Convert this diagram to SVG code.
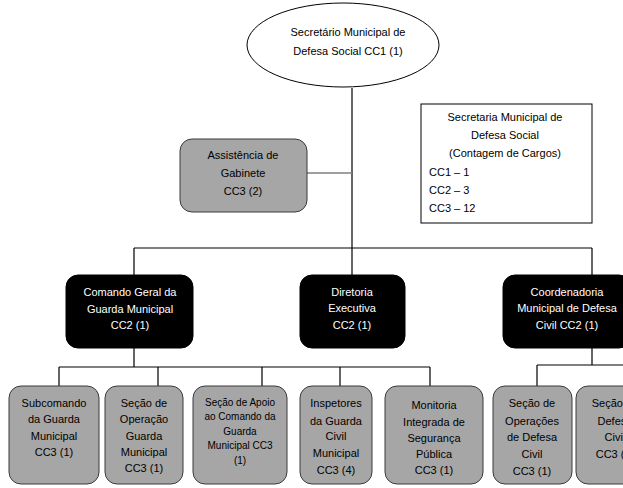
<svg xmlns="http://www.w3.org/2000/svg" width="623" height="488" viewBox="0 0 623 488">
<style>
text{font-family:"Liberation Sans",Arial,sans-serif;font-size:11px;text-anchor:middle;fill:#000}
.w{fill:#fff}
.s{font-size:10px}
.l{text-anchor:start}
.grey{fill:#a6a6a6;stroke:#3a3a3a;stroke-width:1}
.blk{fill:#000;stroke:#000;stroke-width:1}
.c{fill:none;stroke:#000;stroke-width:1.2}
.cg{fill:none;stroke:#7f7f7f;stroke-width:1.5}
</style>
<rect width="623" height="488" fill="#fff"/>
<g id="connectors">
<path class="c" d="M352 88V248M134 248H592M134 248V275M352 248V275M592 248V275"/>
<path class="cg" d="M307 173H352"/>
<path class="c" d="M134 348V367M59 367H430M59 367V386M158 367V386M262 367V386M340 367V386M430 367V386"/>
<path class="c" d="M592 348V365M537 365H630M537 365V386M625 365V386"/>
</g>
<g id="secretario">
<ellipse cx="343" cy="45" rx="96" ry="42" fill="#fff" stroke="#000" stroke-width="1"/>
<text x="348" y="36">Secretário Municipal de</text>
<text x="348" y="55">Defesa Social CC1 (1)</text>
</g>
<g id="contagem">
<rect x="421" y="104" width="171" height="119" fill="#fff" stroke="#000" stroke-width="1"/>
<text x="505" y="121">Secretaria Municipal de</text>
<text x="505" y="139">Defesa Social</text>
<text x="505" y="157">(Contagem de Cargos)</text>
<text class="l" x="429" y="176">CC1 – 1</text>
<text class="l" x="429" y="194">CC2 – 3</text>
<text class="l" x="429" y="212">CC3 – 12</text>
</g>
<g id="assistencia">
<rect class="grey" x="180" y="139" width="127" height="73" rx="12"/>
<text x="243" y="159">Assistência de</text>
<text x="243" y="177">Gabinete</text>
<text x="243" y="195">CC3 (2)</text>
</g>
<g id="comando">
<rect class="blk" x="66" y="275" width="127" height="73" rx="12"/>
<text class="w" x="130" y="296">Comando Geral da</text>
<text class="w" x="130" y="313">Guarda Municipal</text>
<text class="w" x="130" y="329">CC2 (1)</text>
</g>
<g id="diretoria">
<rect class="blk" x="300" y="275" width="105" height="73" rx="12"/>
<text class="w" x="352" y="296">Diretoria</text>
<text class="w" x="352" y="312">Executiva</text>
<text class="w" x="352" y="329">CC2 (1)</text>
</g>
<g id="coordenadoria">
<rect class="blk" x="503" y="275" width="128" height="73" rx="12"/>
<text class="w" x="567" y="296">Coordenadoria</text>
<text class="w" x="567" y="312">Municipal de Defesa</text>
<text class="w" x="567" y="329">Civil CC2 (1)</text>
</g>
<g id="subcomando">
<rect class="grey" x="9" y="386" width="90" height="98" rx="12"/>
<text x="54" y="407">Subcomando</text>
<text x="54" y="423">da Guarda</text>
<text x="54" y="440">Municipal</text>
<text x="54" y="456">CC3 (1)</text>
</g>
<g id="secao-operacao">
<rect class="grey" x="105" y="386" width="78" height="98" rx="12"/>
<text x="144" y="407">Seção de</text>
<text x="144" y="423">Operação</text>
<text x="144" y="440">Guarda</text>
<text x="144" y="456">Municipal</text>
<text x="144" y="472">CC3 (1)</text>
</g>
<g id="secao-apoio">
<rect class="grey" x="193" y="386" width="94" height="98" rx="12"/>
<text class="s" x="240" y="406">Seção de Apoio</text>
<text class="s" x="240" y="420">ao Comando da</text>
<text class="s" x="240" y="435">Guarda</text>
<text class="s" x="240" y="449">Municipal CC3</text>
<text class="s" x="240" y="464">(1)</text>
</g>
<g id="inspetores">
<rect class="grey" x="300" y="386" width="72" height="98" rx="12"/>
<text x="336" y="407">Inspetores</text>
<text x="336" y="425">da Guarda</text>
<text x="336" y="440">Civil</text>
<text x="336" y="457">Municipal</text>
<text x="336" y="474">CC3 (4)</text>
</g>
<g id="monitoria">
<rect class="grey" x="385" y="386" width="98" height="98" rx="12"/>
<text x="434" y="409">Monitoria</text>
<text x="434" y="426">Integrada de</text>
<text x="434" y="442">Segurança</text>
<text x="434" y="458">Pública</text>
<text x="434" y="474">CC3 (1)</text>
</g>
<g id="secao-operacoes-dc">
<rect class="grey" x="493" y="386" width="79" height="98" rx="12"/>
<text x="532" y="407">Seção de</text>
<text x="532" y="425">Operações</text>
<text x="532" y="441">de Defesa</text>
<text x="532" y="458">Civil</text>
<text x="532" y="475">CC3 (1)</text>
</g>
<g id="secao-defesa-civil">
<rect class="grey" x="576" y="386" width="78" height="98" rx="12"/>
<text x="615" y="407">Seção de</text>
<text x="615" y="425">Defesa</text>
<text x="615" y="441">Civil</text>
<text x="615" y="458">CC3 (1)</text>
</g>
</svg>
